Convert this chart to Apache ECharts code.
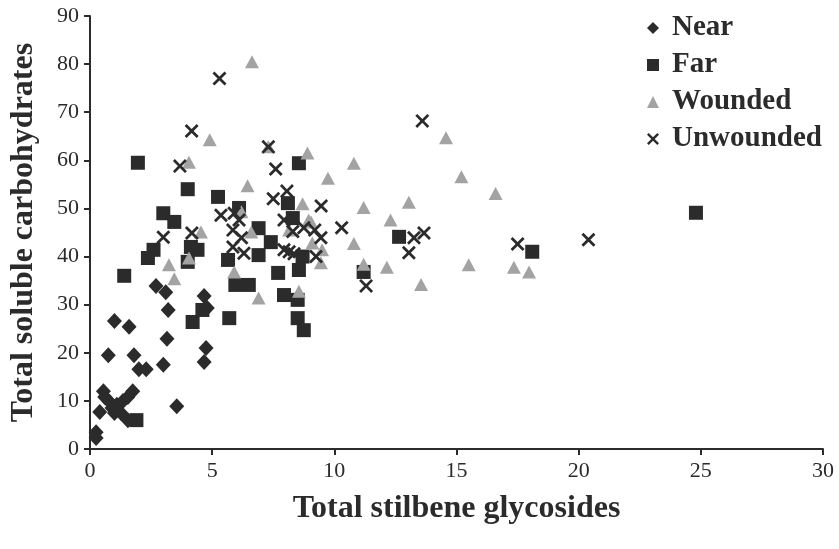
<!DOCTYPE html>
<html>
<head>
<meta charset="utf-8">
<script src="https://cdn.jsdelivr.net/npm/echarts@6/dist/echarts.min.js"></script>
<style>
html,body{margin:0;padding:0;background:#fff;}
#chart{width:839px;height:549px;}
</style>
</head>
<body>
<div id="chart"></div>
<script>
const seriesNames = ['Near', 'Far', 'Wounded', 'Unwounded'];
const xTicks = [0, 5, 10, 15, 20, 25, 30];
const yTicks = [0, 10, 20, 30, 40, 50, 60, 70, 80, 90];

const nearData = [
  [0.25,3.5],[0.25,2.3],[0.4,7.7],[0.55,12],[0.6,10.8],[0.8,9.8],[0.9,8.5],[1.0,7.5],
  [1.1,9.2],[1.27,7.5],[1.35,10],[1.55,6],[1.55,10.8],[1.75,12],[0.75,19.5],[1.0,26.6],
  [1.6,25.4],[1.8,19.5],[2.0,16.6],[2.3,16.6],[2.7,33.9],[3.1,32.6],[3.2,28.9],[3.0,17.5],
  [3.15,22.9],[3.55,8.9],[4.67,31.8],[4.8,29.3],[4.75,21],[4.67,18.1]
];
const farData = [
  [1.96,59.5],[4.0,54],[5.24,52.4],[8.55,59.4],[8.1,51.1],[6.1,50.1],[3.0,49],[3.45,47.2],
  [8.3,48],[6.9,45.9],[7.4,43],[4.13,42],[4.4,41.4],[2.6,41.4],[2.37,39.7],[4.0,38.9],
  [1.4,36],[5.65,39.3],[5.95,34.1],[6.5,34.1],[6.9,40.3],[7.7,36.6],[8.7,40],[8.55,37.2],
  [7.94,32],[8.5,31],[4.2,26.4],[5.7,27.2],[8.5,27.2],[8.75,24.7],[4.6,28.9],[1.9,6.0],
  [12.65,44.1],[11.2,36.8],[18.1,41],[24.8,49.1]
];
const woundedData = [
  [6.63,80.5],[4.9,64.3],[4.05,59.6],[7.3,62.8],[8.9,61.5],[10.8,59.4],[9.74,56.3],[6.45,54.7],
  [8.7,51],[11.2,50.2],[13.05,51.3],[12.3,47.6],[14.57,64.7],[15.2,56.6],[16.6,53.1],[9.05,47.2],
  [8.15,45.5],[4.54,45.1],[6.6,45.1],[6.2,49.3],[9.1,42.8],[9.5,41.4],[9.45,38.7],[10.8,42.7],
  [4.05,39.7],[3.23,38.3],[3.45,35.4],[5.9,36.8],[6.9,31.4],[8.55,32.8],[11.2,38.4],[12.15,37.8],
  [13.55,34.2],[15.5,38.3],[17.35,37.8],[17.97,36.8],[8.95,47.6]
];
const unwoundedData = [
  [5.3,77],[4.16,66.1],[13.6,68.2],[7.3,62.8],[3.68,58.8],[7.6,58.2],[8.06,53.6],[7.5,52],
  [9.46,50.5],[10.3,46],[5.36,48.6],[5.9,49],[7.94,47.6],[4.17,44.9],[3.0,44],[5.85,45.5],
  [6.1,47.6],[6.2,43.9],[5.85,42],[6.3,40.7],[8.3,45.2],[8.75,46],[9.2,45.5],[9.45,43.9],
  [7.94,41.4],[8.15,41],[8.35,40.6],[9.25,40],[13.26,43.9],[13.67,44.9],[13.05,40.8],[11.3,33.9],
  [17.5,42.6],[20.4,43.5]
];

const FONT = '"Liberation Serif", "Times New Roman", serif';
const DARK = '#2b2b2b';
const XPATH = 'path://M0,14L14,0L50,36L86,0L100,14L64,50L100,86L86,100L50,64L14,100L0,86L36,50Z';

const chart = echarts.init(document.getElementById('chart'), null, {renderer: 'canvas'});
chart.setOption({
  animation: false,
  backgroundColor: '#fff',
  grid: {left: 89, right: 16, top: 16, bottom: 100, containLabel: false},
  legend: {
    orient: 'vertical',
    left: 642,
    top: 8,
    itemWidth: 12,
    itemHeight: 12,
    itemGap: 7,
    textStyle: {fontFamily: FONT, fontWeight: 'bold', fontSize: 29, color: DARK, lineHeight: 30, padding: [0, 0, 0, 8]},
    data: seriesNames
  },
  xAxis: {
    type: 'value', min: xTicks[0], max: xTicks[xTicks.length - 1], interval: 5,
    name: 'Total stilbene glycosides', nameLocation: 'middle', nameGap: 44,
    nameTextStyle: {fontFamily: FONT, fontWeight: 'bold', fontSize: 32, color: DARK},
    axisLine: {lineStyle: {color: DARK, width: 2}},
    axisTick: {show: true, inside: false, length: 6, lineStyle: {color: DARK, width: 2}},
    axisLabel: {fontFamily: FONT, fontSize: 22, color: DARK, margin: 11},
    splitLine: {show: false}
  },
  yAxis: {
    type: 'value', min: yTicks[0], max: yTicks[yTicks.length - 1], interval: 10,
    name: 'Total soluble carbohydrates', nameLocation: 'middle', nameGap: 50,
    nameTextStyle: {fontFamily: FONT, fontWeight: 'bold', fontSize: 32, color: DARK},
    axisLine: {show: true, lineStyle: {color: DARK, width: 2}},
    axisTick: {show: true, inside: false, length: 6, lineStyle: {color: DARK, width: 2}},
    axisLabel: {fontFamily: FONT, fontSize: 22, color: DARK, margin: 11},
    splitLine: {show: false}
  },
  series: [
    {name: 'Near', type: 'scatter', data: nearData, symbol: 'diamond', symbolSize: [15, 16],
     itemStyle: {color: DARK, opacity: 1}},
    {name: 'Far', type: 'scatter', data: farData, symbol: 'rect', symbolSize: 14,
     itemStyle: {color: DARK, opacity: 1}},
    {name: 'Wounded', type: 'scatter', data: woundedData, symbol: 'triangle', symbolSize: [14, 13],
     itemStyle: {color: '#a3a3a3', opacity: 1}},
    {name: 'Unwounded', type: 'scatter', data: unwoundedData, symbol: XPATH, symbolSize: 14,
     itemStyle: {color: DARK, opacity: 1}}
  ]
});
</script>
</body>
</html>
